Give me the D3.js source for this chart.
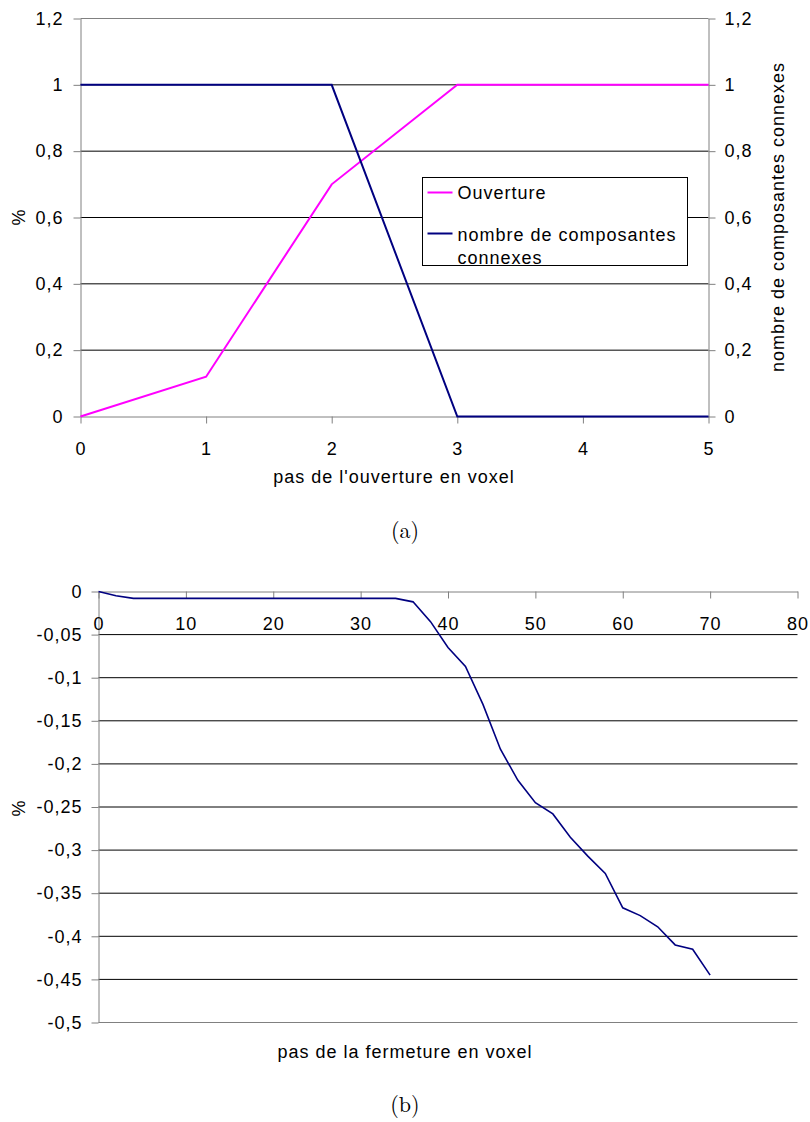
<!DOCTYPE html>
<html>
<head>
<meta charset="utf-8">
<script src="https://cdn.jsdelivr.net/npm/d3@7"></script>
<style>
  body { margin: 0; background: #fff; }
  text { font-family: "Liberation Sans", Arial, sans-serif; letter-spacing: 1px; }
  .caption { font-family: "Latin Modern Roman", "DejaVu Serif", "Liberation Serif", serif; letter-spacing: 0; }
</style>
</head>
<body>
<script>
// --- chart (a) data
const stepsA = [0, 1, 2, 3, 4, 5];
const ouverture = [0, 0.12, 0.7, 1, 1, 1];
const composantes = [1, 1, 1, 0, 0, 0];
const yTicksA = [0, 0.2, 0.4, 0.6, 0.8, 1, 1.2];
const legendA = ["Ouverture", "nombre de composantes connexes"];

// --- chart (b) data
const stepsB = [0,2,4,6,8,10,12,14,16,18,20,22,24,26,28,30,32,34,36,38,40,42,44,46,48,50,52,54,56,58,60,62,64,66,68,70];
const fermeture = [0,-0.005,-0.008,-0.008,-0.008,-0.008,-0.008,-0.008,-0.008,-0.008,-0.008,-0.008,-0.008,-0.008,-0.008,-0.008,-0.008,-0.008,
  -0.012,-0.035,-0.065,-0.087,-0.131,-0.183,-0.219,-0.245,-0.258,-0.285,-0.307,-0.327,-0.367,-0.376,-0.389,-0.41,-0.415,-0.445];
const xTicksB = [0,10,20,30,40,50,60,70,80];
const yTicksB = [0,-0.05,-0.1,-0.15,-0.2,-0.25,-0.3,-0.35,-0.4,-0.45,-0.5];

const fr = d3.formatLocale({decimal: ",", thousands: " ", grouping: [3], currency: ["", " €"], minus: "-"});
const fmt = fr.format("~g");

const svg = d3.select("body").append("svg")
    .attr("width", 810).attr("height", 1122)
    .style("background", "#fff");

const axisGray = "#808080";
const fs = 18;

function styleAxis(g) {
  g.selectAll("path.domain").attr("stroke", axisGray);
  g.selectAll(".tick line").attr("stroke", axisGray);
  g.selectAll(".tick text").attr("fill", "#000").style("font-size", fs + "px");
}

// ================= chart (a) =================
const xA = d3.scaleLinear().domain([0, 5]).range([80.5, 708.5]);
const yA = d3.scaleLinear().domain([0, 1.2]).range([416.5, 18.5]);

const gA = svg.append("g");

// gridlines
gA.append("g").selectAll("line")
  .data(yTicksA.filter(d => d > 0))
  .join("line")
    .attr("x1", xA(0)).attr("x2", xA(5))
    .attr("y1", d => yA(d)).attr("y2", d => yA(d))
    .attr("stroke", d => d === 1.2 ? axisGray : "#000")
    .attr("stroke-width", 1);

gA.append("g")
  .attr("transform", `translate(${xA(0)},0)`)
  .call(d3.axisLeft(yA).tickValues(yTicksA).tickFormat(fmt).tickSize(7).tickSizeOuter(0).tickPadding(10))
  .call(styleAxis);

gA.append("g")
  .attr("transform", `translate(${xA(5)},0)`)
  .call(d3.axisRight(yA).tickValues(yTicksA).tickFormat(fmt).tickSize(7).tickSizeOuter(0).tickPadding(9))
  .call(styleAxis);

gA.append("g")
  .attr("transform", `translate(0,${yA(0)})`)
  .call(d3.axisBottom(xA).tickValues(stepsA).tickFormat(fmt).tickSize(7).tickSizeOuter(0).tickPadding(19))
  .call(styleAxis);

const lineA = d3.line().x((d, i) => xA(stepsA[i])).y(d => yA(d));

gA.append("path").datum(ouverture)
  .attr("d", lineA).attr("fill", "none")
  .attr("stroke", "#ff00ff").attr("stroke-width", 2);

gA.append("path").datum(composantes)
  .attr("d", lineA).attr("fill", "none")
  .attr("stroke", "#000080").attr("stroke-width", 2);

// axis titles
gA.append("text").attr("transform", "translate(25,217) rotate(-90)")
  .attr("text-anchor", "middle").style("font-size", fs + "px").text("%");
gA.append("text").attr("transform", "translate(784,217) rotate(-90)")
  .attr("text-anchor", "middle").style("font-size", fs + "px").text(legendA[1]);
gA.append("text").attr("x", 394).attr("y", 483)
  .attr("text-anchor", "middle").style("font-size", fs + "px").text("pas de l'ouverture en voxel");

// legend
const leg = gA.append("g").attr("transform", "translate(422.5,177.5)");
leg.append("rect").attr("width", 265).attr("height", 88)
  .attr("fill", "#fff").attr("stroke", "#000");
leg.append("line").attr("x1", 5).attr("x2", 30).attr("y1", 15).attr("y2", 15)
  .attr("stroke", "#ff00ff").attr("stroke-width", 2);
leg.append("text").attr("x", 35).attr("y", 21).style("font-size", fs + "px").text(legendA[0]);
leg.append("line").attr("x1", 5).attr("x2", 30).attr("y1", 56).attr("y2", 56)
  .attr("stroke", "#000080").attr("stroke-width", 2);
leg.append("text").attr("x", 35).attr("y", 63).style("font-size", fs + "px").text("nombre de composantes");
leg.append("text").attr("x", 35).attr("y", 86).style("font-size", fs + "px").text("connexes");

svg.append("text").attr("class", "caption").attr("x", 405).attr("y", 538)
  .attr("text-anchor", "middle").style("font-size", "22px").text("(a)");

// ================= chart (b) =================
const xB = d3.scaleLinear().domain([0, 80]).range([98.5, 797.5]);
const yB = d3.scaleLinear().domain([-0.5, 0]).range([1022.5, 591.5]);

const gB = svg.append("g");

gB.append("g").selectAll("line")
  .data(yTicksB.filter(d => d < 0 && d > -0.5))
  .join("line")
    .attr("x1", xB(0)).attr("x2", xB(80))
    .attr("y1", d => yB(d)).attr("y2", d => yB(d))
    .attr("stroke", "#000").attr("stroke-width", 1);

gB.append("line")
  .attr("x1", xB(0)).attr("x2", xB(80))
  .attr("y1", yB(-0.5)).attr("y2", yB(-0.5))
  .attr("stroke", axisGray);

gB.append("g")
  .attr("transform", `translate(${xB(0)},0)`)
  .call(d3.axisLeft(yB).tickValues(yTicksB).tickFormat(fmt).tickSize(7).tickSizeOuter(0).tickPadding(9))
  .call(styleAxis);

gB.append("g")
  .attr("transform", `translate(0,${yB(0)})`)
  .call(d3.axisBottom(xB).tickValues(xTicksB).tickFormat(fmt).tickSize(7).tickSizeOuter(0).tickPadding(19))
  .call(styleAxis);

const lineB = d3.line().x((d, i) => xB(stepsB[i])).y(d => yB(d));

gB.append("path").datum(fermeture)
  .attr("d", lineB).attr("fill", "none")
  .attr("stroke", "#000080").attr("stroke-width", 1.6);

gB.append("text").attr("transform", "translate(25,808) rotate(-90)")
  .attr("text-anchor", "middle").style("font-size", fs + "px").text("%");
gB.append("text").attr("x", 405).attr("y", 1058)
  .attr("text-anchor", "middle").style("font-size", fs + "px").text("pas de la fermeture en voxel");

svg.append("text").attr("class", "caption").attr("x", 405).attr("y", 1112)
  .attr("text-anchor", "middle").style("font-size", "22px").text("(b)");
</script>
</body>
</html>
